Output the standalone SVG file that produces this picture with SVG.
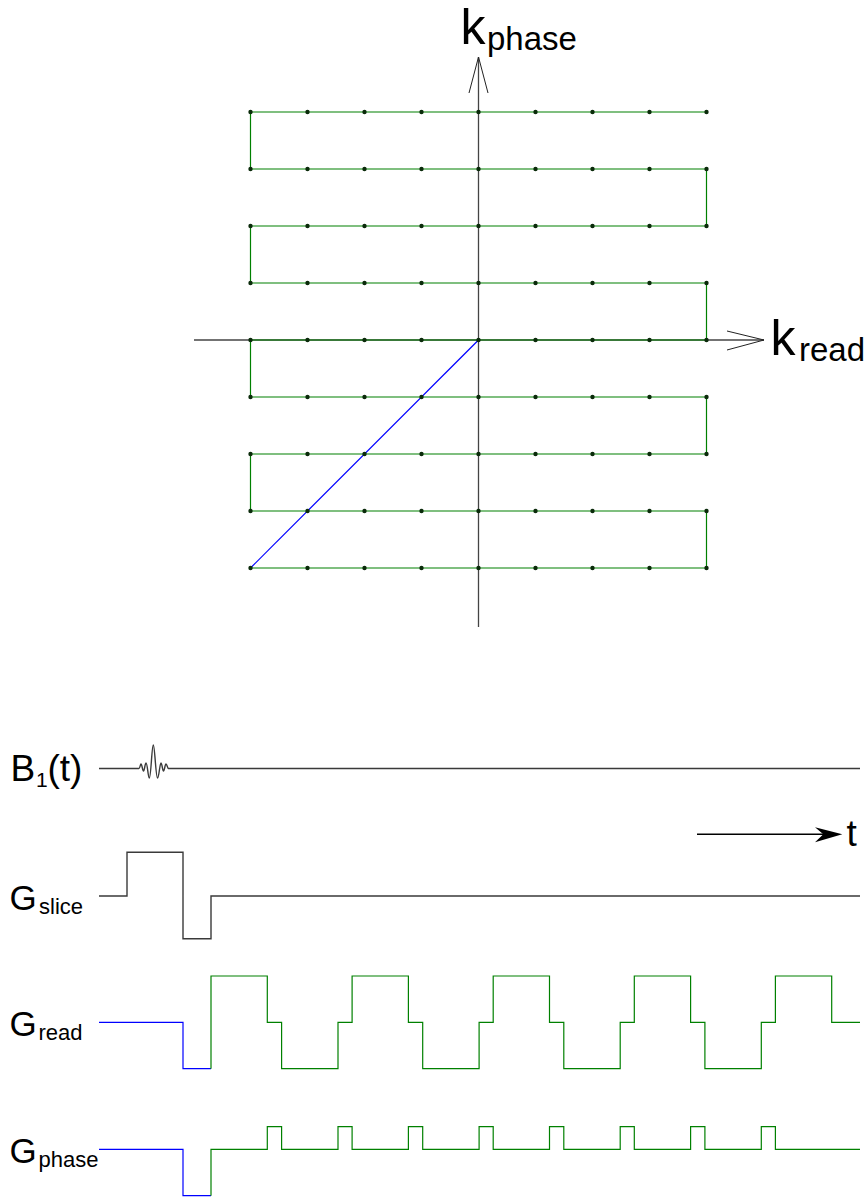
<svg xmlns="http://www.w3.org/2000/svg" width="866" height="1198" viewBox="0 0 866 1198">
<style>
  text { font-family: "Liberation Sans", Arial, sans-serif; fill: #000; }
  .axis { stroke: #444; stroke-width: 1.3; fill: none; }
  .head { stroke: #222; stroke-width: 1; fill: none; }
  .traj { stroke: #008000; stroke-width: 1.2; fill: none; }
  .blue { stroke: #0000ff; stroke-width: 1.2; fill: none; }
  .wave { stroke: #3a3a3a; stroke-width: 1.4; fill: none; stroke-linejoin: miter; }
  .gw { stroke: #008000; stroke-width: 1.2; fill: none; }
</style>
<defs>
  <marker id="dot" markerWidth="6" markerHeight="6" refX="3" refY="3" markerUnits="userSpaceOnUse">
    <circle cx="3" cy="3" r="2.2" fill="#0a2a0a"/>
  </marker>
</defs>
<rect width="866" height="1198" fill="#fff"/>

<g id="kspace-axes">
  <path class="axis" d="M478.5,627 V57"/>
  <path class="axis" d="M194,340 H764"/>
  <path class="head" d="M469,93 L478.5,57 L488,93"/>
  <path class="head" d="M727,331 L764,340 L727,350"/>
</g>

<g id="kspace-trajectory">
  <path class="blue" d="M478.5,340 L250.5,568"/>
  <path class="traj" d="M250.5,568 H706.5 V511 H250.5 V454 H706.5 V397 H250.5 V340 H706.5 V283 H250.5 V226 H706.5 V169 H250.5 V112 H706.5"/>
</g>

<g id="kspace-samples">
  <path stroke="none" fill="none" marker-start="url(#dot)" marker-mid="url(#dot)" marker-end="url(#dot)"
    d="M250.5,112 H307.5 H364.5 H421.5 H478.5 H535.5 H592.5 H649.5 H706.5
       M250.5,169 H307.5 H364.5 H421.5 H478.5 H535.5 H592.5 H649.5 H706.5
       M250.5,226 H307.5 H364.5 H421.5 H478.5 H535.5 H592.5 H649.5 H706.5
       M250.5,283 H307.5 H364.5 H421.5 H478.5 H535.5 H592.5 H649.5 H706.5
       M250.5,340 H307.5 H364.5 H421.5 H478.5 H535.5 H592.5 H649.5 H706.5
       M250.5,397 H307.5 H364.5 H421.5 H478.5 H535.5 H592.5 H649.5 H706.5
       M250.5,454 H307.5 H364.5 H421.5 H478.5 H535.5 H592.5 H649.5 H706.5
       M250.5,511 H307.5 H364.5 H421.5 H478.5 H535.5 H592.5 H649.5 H706.5
       M250.5,568 H307.5 H364.5 H421.5 H478.5 H535.5 H592.5 H649.5 H706.5"/>
</g>

<g id="label-kphase">
  <text x="460.5" y="44" font-size="50">k</text>
  <text x="487" y="50" font-size="33">phase</text>
</g>
<g id="label-kread">
  <text x="770.5" y="355" font-size="50">k</text>
  <text x="799" y="361" font-size="33">read</text>
</g>

<g id="b1">
  <text x="10.5" y="781" font-size="37">B</text>
  <text x="36" y="787" font-size="21">1</text>
  <text x="47.5" y="781" font-size="37">(t)</text>
  <path class="wave" stroke="#222" stroke-width="1.5" stroke-linejoin="round" d="M99,768.5 H139 C140,768.5 140.3,764 141,764 C142,764 142.5,771 143.5,771 C144.5,771 145,763 146,763 C147.5,763 148,778 149.3,778 C151,778 151.8,745 153.3,745 C154.8,745 155.8,778 157.5,778 C159,778 159.8,763 161,763 C162,763 162.5,771 163.5,771 C164.5,771 165,764 166,764 C167,764 167.5,768.5 168.5,768.5 H860"/>
</g>

<g id="time-arrow">
  <path stroke="#000" stroke-width="1.5" d="M697,834.3 H826"/>
  <polygon fill="#000" points="842.3,834.3 815,827.3 823.3,834.3 815,842.3"/>
  <text x="846.5" y="846" font-size="37">t</text>
</g>

<g id="gslice">
  <text x="9.5" y="910" font-size="35">G</text>
  <text x="39" y="914" font-size="22">slice</text>
  <path class="wave" d="M99,896 H127 V852.3 H183 V938.7 H211 V896 H860"/>
</g>

<g id="gread">
  <text x="9.5" y="1036" font-size="35">G</text>
  <text x="38.5" y="1040" font-size="22">read</text>
  <path class="blue" d="M99,1022.3 H183 V1068.7 H211"/>
  <path class="gw" d="M211,1068.7 V976 H267.3 V1022.3 H281.6 V1068.7 H338 V1022.3 H352.1 V976 H408.4 V1022.3 H422.7 V1068.7 H479.1 V1022.3 H493.2 V976 H549.5 V1022.3 H563.8 V1068.7 H620.2 V1022.3 H634.3 V976 H690.6 V1022.3 H704.9 V1068.7 H761.3 V1022.3 H775.4 V976 H831.7 V1022.3 H860"/>
</g>

<g id="gphase">
  <text x="9.5" y="1163" font-size="35">G</text>
  <text x="38.5" y="1167" font-size="22">phase</text>
  <path class="blue" d="M99,1149.3 H183 V1195.7 H211"/>
  <path class="gw" d="M211,1195.7 V1149.3 H267.3 V1126.7 H281.6 V1149.3 H338 V1126.7 H352.1 V1149.3 H408.4 V1126.7 H422.7 V1149.3 H479.1 V1126.7 H493.2 V1149.3 H549.5 V1126.7 H563.8 V1149.3 H620.2 V1126.7 H634.3 V1149.3 H690.6 V1126.7 H704.9 V1149.3 H761.3 V1126.7 H775.4 V1149.3 H860"/>
</g>
</svg>
